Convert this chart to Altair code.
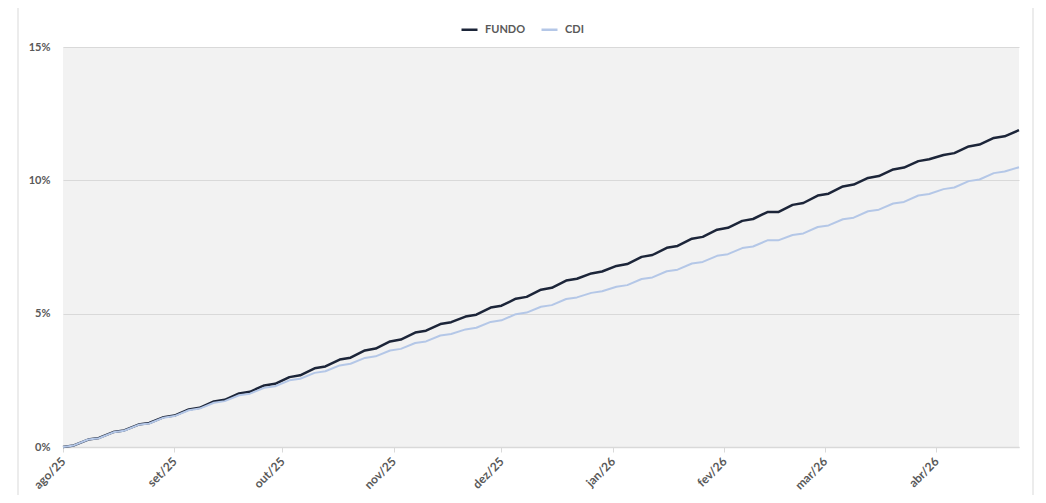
import altair as alt
import pandas as pd

# Weekly readings of accumulated return (%): each Friday, and the following Monday
fridays = [
    "2025-08-01", "2025-08-08", "2025-08-15", "2025-08-22", "2025-08-29",
    "2025-09-05", "2025-09-12", "2025-09-19", "2025-09-26",
    "2025-10-03", "2025-10-10", "2025-10-17", "2025-10-24", "2025-10-31",
    "2025-11-07", "2025-11-14", "2025-11-21", "2025-11-28",
    "2025-12-05", "2025-12-12", "2025-12-19", "2025-12-26",
    "2026-01-02", "2026-01-09", "2026-01-16", "2026-01-23", "2026-01-30",
    "2026-02-06", "2026-02-13", "2026-02-20", "2026-02-27",
    "2026-03-06", "2026-03-13", "2026-03-20", "2026-03-27",
    "2026-04-03", "2026-04-10", "2026-04-17", "2026-04-24",
]
fundo_fri = [
    0.00, 0.28, 0.56, 0.84, 1.12,
    1.41, 1.71, 2.01, 2.31,
    2.62, 2.95, 3.28, 3.62, 3.96,
    4.29, 4.61, 4.89, 5.23,
    5.56, 5.90, 6.24, 6.51,
    6.79, 7.13, 7.47, 7.81, 8.15,
    8.48, 8.81, 9.08, 9.43,
    9.77, 10.09, 10.41, 10.72,
    10.95, 11.27, 11.59, 11.88,
]
fundo_mon = [
    0.06, 0.34, 0.62, 0.90, 1.18,
    1.47, 1.77, 2.07, 2.37,
    2.69, 3.02, 3.35, 3.69, 4.03,
    4.36, 4.68, 4.96, 5.30,
    5.63, 5.97, 6.31, 6.58,
    6.86, 7.20, 7.54, 7.88, 8.22,
    8.55, 8.81, 9.15, 9.50,
    9.84, 10.16, 10.48, 10.79,
    11.02, 11.34, 11.65,
]
cdi_fri = [
    0.00, 0.28, 0.55, 0.83, 1.10,
    1.38, 1.66, 1.94, 2.22,
    2.50, 2.78, 3.06, 3.34, 3.62,
    3.90, 4.18, 4.41, 4.69,
    4.98, 5.26, 5.55, 5.78,
    6.01, 6.30, 6.59, 6.88, 7.17,
    7.46, 7.75, 7.95, 8.25,
    8.54, 8.84, 9.13, 9.43,
    9.67, 9.97, 10.27, 10.49,
]
cdi_mon = [
    0.06, 0.33, 0.61, 0.88, 1.16,
    1.44, 1.72, 2.00, 2.28,
    2.56, 2.84, 3.12, 3.40, 3.68,
    3.96, 4.24, 4.47, 4.75,
    5.04, 5.32, 5.61, 5.84,
    6.07, 6.36, 6.65, 6.94, 7.23,
    7.52, 7.75, 8.01, 8.31,
    8.60, 8.90, 9.19, 9.49,
    9.73, 10.03, 10.33,
]
series_names = ["FUNDO", "CDI"]
series_colors = ["#1C2539", "#B4C7E7"]
month_ticks = [(2025, 8), (2025, 9), (2025, 10), (2025, 11), (2025, 12),
               (2026, 1), (2026, 2), (2026, 3), (2026, 4)]
month_names_pt = ["jan", "fev", "mar", "abr", "mai", "jun",
                  "jul", "ago", "set", "out", "nov", "dez"]

rows = []
for name, fri_vals, mon_vals in zip(series_names, (fundo_fri, cdi_fri), (fundo_mon, cdi_mon)):
    for i, (d, v) in enumerate(zip(fridays, fri_vals)):
        dt = pd.Timestamp(d)
        rows.append({"date": dt.strftime("%Y-%m-%d"), "value": v / 100, "series": name})
        if i < len(mon_vals):
            mon = dt + pd.Timedelta(days=3)
            rows.append({"date": mon.strftime("%Y-%m-%d"), "value": mon_vals[i] / 100, "series": name})
df = pd.DataFrame(rows)

FONT = "Lato"
TXT = "#595959"
GRID = "#D9D9D9"

label_expr = ("['" + "','".join(month_names_pt) + "'][utcmonth(datum.value)] + '/' + "
              "utcFormat(datum.value, '%y')")

x_enc = alt.X(
    "date:T",
    scale=alt.Scale(type="utc", domain=[alt.DateTime(year=2025, month=8, date=1, utc=True),
                                        alt.DateTime(year=2026, month=4, date=24, utc=True)],
                    nice=False),
    axis=alt.Axis(
        values=[alt.DateTime(year=y, month=m, date=1, utc=True) for y, m in month_ticks],
        labelExpr=label_expr,
        labelAngle=-45, labelAlign="right", labelBaseline="middle",
        labelPadding=7, labelFontSize=12, labelFontWeight="bold", labelColor=TXT, labelFont=FONT,
        ticks=True, tickSize=5, tickColor=GRID, domainColor=GRID, domainWidth=1.5,
        grid=False, title=None,
    ),
)
y_enc = alt.Y(
    "value:Q",
    scale=alt.Scale(domain=[0, 0.15], nice=False),
    axis=alt.Axis(
        values=[0, 0.05, 0.10, 0.15], format=".0%",
        labelFontSize=11, labelFontWeight="bold", labelColor=TXT, labelFont=FONT,
        labelPadding=13, ticks=False, domain=False,
        grid=True, gridColor=GRID, gridWidth=1, title=None,
    ),
)
color_enc = alt.Color(
    "series:N",
    scale=alt.Scale(domain=series_names, range=series_colors),
    legend=alt.Legend(
        title=None, orient="none", legendX=397, legendY=-27, direction="horizontal",
        symbolType="stroke", symbolStrokeWidth=2.5, symbolSize=256,
        labelFontSize=11, labelFontWeight="bold", labelColor=TXT, labelFont=FONT,
        columnPadding=10, labelOffset=6,
    ),
    sort=series_names,
)

base = alt.Chart(df).encode(x=x_enc, y=y_enc, color=color_enc)
fundo_line = base.transform_filter(alt.datum.series == "FUNDO").mark_line(
    strokeWidth=2.5, strokeJoin="round")
cdi_line = base.transform_filter(alt.datum.series == "CDI").mark_line(
    strokeWidth=2, strokeJoin="round")

frame = alt.Chart(pd.DataFrame({"a": [0]})).mark_rect(
    fill=None, stroke=GRID, strokeWidth=1
).encode(x=alt.value(-45), x2=alt.value(970), y=alt.value(-41), y2=alt.value(520))

chart = alt.layer(frame, fundo_line, cdi_line).properties(
    width=956, height=400,
    autosize=alt.AutoSizeParams(type="none"),
    padding={"left": 55, "top": 39, "right": 18, "bottom": 48},
    background="white",
).configure_view(fill="#F2F2F2", stroke=None)

chart.save("out.html", embed_options={"renderer": "svg", "actions": False})
